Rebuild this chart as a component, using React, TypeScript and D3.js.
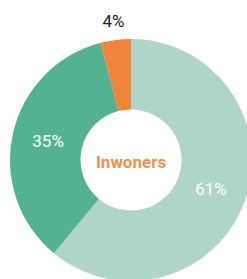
import React from "react";
import * as d3 from "d3";

const categories = ["A", "B", "C"];
const values = [61, 35, 4];
const labels = ["61%", "35%", "4%"];
const colors = ["#aed5c7", "#53b390", "#f0843b"];
const title = "Inwoners";

export default function App() {
  const width = 247;
  const height = 279;
  const cx = 131;
  const cy = 160;
  const outer = 121;
  const inner = 50.5;

  const pie = d3.pie<number>().sort(null).value((d) => d);
  const arcs = pie(values);
  const arc = d3.arc<d3.PieArcDatum<number>>().innerRadius(inner).outerRadius(outer);
  const labelArc = d3.arc<d3.PieArcDatum<number>>().innerRadius(85).outerRadius(85);
  const outsideArc = d3.arc<d3.PieArcDatum<number>>().innerRadius(140).outerRadius(140);

  return (
    <svg
      width={width}
      height={height}
      style={{ position: "absolute", left: 0, top: 0, fontFamily: "Roboto" }}
    >
      <g transform={`translate(${cx},${cy})`}>
        {arcs.map((a, i) => (
          <path key={categories[i]} d={arc(a) || ""} fill={colors[i]} />
        ))}
        {arcs.map((a, i) => {
          const small = a.endAngle - a.startAngle < 0.3;
          const [x, y] = small ? outsideArc.centroid(a) : labelArc.centroid(a);
          return (
            <text
              key={"l" + i}
              x={x}
              y={y}
              textAnchor="middle"
              dominantBaseline="central"
              fontSize={17}
              fill={small ? "#222" : "#fff"}
            >
              {labels[i]}
            </text>
          );
        })}
        <text
          x={0}
          y={2}
          textAnchor="middle"
          dominantBaseline="central"
          fontSize={17}
          fontWeight="bold"
          fill="#f0843b"
          opacity={0.9}
        >
          {title}
        </text>
      </g>
    </svg>
  );
}
